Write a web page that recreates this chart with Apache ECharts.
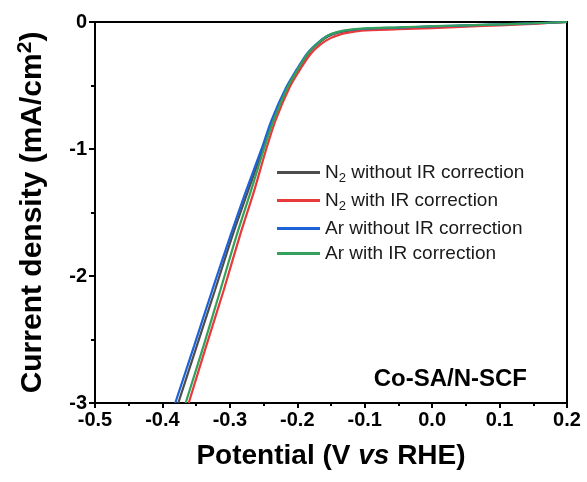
<!DOCTYPE html>
<html><head><meta charset="utf-8">
<script src="https://cdn.jsdelivr.net/npm/echarts@6/dist/echarts.min.js"></script>
<style>html,body{margin:0;padding:0;background:#fff}#c{width:587px;height:482px}</style>
</head><body><div id="c"></div>
<script>
// Series names (legend order)
const seriesNames = ['N2 without IR correction', 'N2 with IR correction', 'Ar without IR correction', 'Ar with IR correction'];
const seriesColors = ['#4d4d4d', '#e8393b', '#1d63d8', '#35a05a'];

// [Potential (V vs RHE), Current density (mA/cm2)]
const n2WithoutIR = [[-0.3765,-3.0],[-0.349,-2.55],[-0.322,-2.11],[-0.296,-1.68],[-0.273,-1.33],[-0.251,-1.0],[-0.236,-0.77],[-0.214,-0.51],[-0.199,-0.375],[-0.183,-0.245],[-0.168,-0.165],[-0.154,-0.112],[-0.140,-0.085],[-0.123,-0.068],[-0.105,-0.058],[-0.05,-0.047],[0.0,-0.038],[0.05,-0.029],[0.1,-0.02],[0.15,-0.011],[0.2,0.0]];
const n2WithIR = [[-0.361,-3.0],[-0.335,-2.55],[-0.309,-2.11],[-0.285,-1.68],[-0.264,-1.33],[-0.246,-1.0],[-0.232,-0.77],[-0.211,-0.51],[-0.196,-0.375],[-0.180,-0.25],[-0.165,-0.175],[-0.150,-0.125],[-0.136,-0.097],[-0.12,-0.08],[-0.105,-0.068],[-0.05,-0.057],[0.0,-0.048],[0.05,-0.037],[0.1,-0.026],[0.15,-0.014],[0.2,0.0]];
const arWithoutIR = [[-0.381,-3.0],[-0.353,-2.55],[-0.326,-2.11],[-0.299,-1.68],[-0.276,-1.33],[-0.253,-1.0],[-0.238,-0.77],[-0.216,-0.51],[-0.201,-0.375],[-0.185,-0.245],[-0.170,-0.165],[-0.156,-0.11],[-0.142,-0.083],[-0.125,-0.065],[-0.105,-0.055],[-0.05,-0.044],[0.0,-0.035],[0.05,-0.027],[0.1,-0.019],[0.15,-0.01],[0.2,0.0]];
const arWithIR = [[-0.3656,-3.0],[-0.339,-2.55],[-0.314,-2.11],[-0.290,-1.68],[-0.2687,-1.33],[-0.2495,-1.0],[-0.235,-0.77],[-0.214,-0.51],[-0.1995,-0.375],[-0.184,-0.245],[-0.169,-0.165],[-0.155,-0.108],[-0.141,-0.08],[-0.124,-0.062],[-0.105,-0.052],[-0.05,-0.042],[0.0,-0.033],[0.05,-0.026],[0.1,-0.019],[0.15,-0.01],[0.2,0.0]];
const seriesData = [n2WithoutIR, n2WithIR, arWithoutIR, arWithIR];

const xTicks = [-0.5, -0.4, -0.3, -0.2, -0.1, 0.0, 0.1, 0.2];
const yTicks = [-3, -2, -1, 0];
const sampleLabel = 'Co-SA/N-SCF';

const FONT = 'Liberation Sans, Arial, sans-serif';
const chart = echarts.init(document.getElementById('c'), null, {renderer: 'canvas'});

chart.setOption({
  animation: false,
  backgroundColor: '#fff',
  grid: {left: 95, right: 20, top: 22, bottom: 79, show: true, borderColor: '#000', borderWidth: 2, backgroundColor: 'transparent'},
  legend: {
    orient: 'vertical', left: 277, top: 163, itemGap: 6, padding: 0,
    itemWidth: 43, itemHeight: 3, icon: 'rect',
    data: seriesNames,
    formatter: function (name) {
      if (name.indexOf('N2') === 0) return '{t|N}{s|2}{t|' + name.slice(2) + '}';
      return '{t|' + name + '}';
    },
    textStyle: {
      color: '#1a1a1a', fontFamily: FONT, fontSize: 19,
      rich: {
        t: {fontSize: 19, fontFamily: FONT, color: '#1a1a1a'},
        s: {fontSize: 13, fontFamily: FONT, color: '#1a1a1a', padding: [12, 0, 0, 0]}
      }
    }
  },
  xAxis: {
    type: 'value', min: xTicks[0], max: xTicks[xTicks.length - 1], interval: 0.1,
    name: '{b|Potential (V }{i|vs}{b| RHE)}', nameLocation: 'middle', nameGap: 39,
    nameTextStyle: {
      rich: {
        b: {fontSize: 28, fontWeight: 'bold', fontFamily: FONT, color: '#000'},
        i: {fontSize: 28, fontWeight: 'bold', fontStyle: 'italic', fontFamily: FONT, color: '#000'}
      }
    },
    axisLine: {show: true, onZero: false, lineStyle: {color: '#000', width: 2}},
    axisTick: {show: true, inside: false, length: 5, lineStyle: {color: '#000', width: 2}},
    minorTick: {show: true, splitNumber: 2, length: 3, lineStyle: {color: '#000', width: 2}},
    splitLine: {show: false},
    axisLabel: {
      color: '#000', fontSize: 20, fontWeight: 'bold', fontFamily: FONT, margin: 7,
      formatter: function (v) { return Math.abs(v) < 1e-9 ? '0.0' : v.toFixed(1); }
    }
  },
  yAxis: {
    type: 'value', min: yTicks[0], max: yTicks[yTicks.length - 1], interval: 1,
    name: '{a|Current density (mA/cm}{b|2}{a|)}', nameLocation: 'middle', nameGap: 44, nameRotate: 90,
    nameTextStyle: {
      rich: {
        a: {fontSize: 30, fontWeight: 'bold', fontFamily: FONT, color: '#000'},
        b: {fontSize: 21, fontWeight: 'bold', fontFamily: FONT, color: '#000', padding: [0, 0, 15, 0]}
      }
    },
    axisLine: {show: true, onZero: false, lineStyle: {color: '#000', width: 2}},
    axisTick: {show: true, inside: false, length: 6, lineStyle: {color: '#000', width: 2}},
    minorTick: {show: true, splitNumber: 2, length: 4, lineStyle: {color: '#000', width: 2}},
    splitLine: {show: false},
    axisLabel: {color: '#000', fontSize: 20, fontWeight: 'bold', fontFamily: FONT, margin: 8}
  },
  graphic: [{
    type: 'text', right: 60, top: 367,
    style: {text: sampleLabel, fill: '#000', font: 'bold 24px ' + FONT}
  }],
  series: seriesNames.map(function (name, i) {
    return {
      name: name, type: 'line', data: seriesData[i],
      showSymbol: false, symbol: 'none',
      smooth: 0.3,
      lineStyle: {color: seriesColors[i], width: 2.2},
      itemStyle: {color: seriesColors[i]},
      clip: true
    };
  })
});
</script>
</body></html>
